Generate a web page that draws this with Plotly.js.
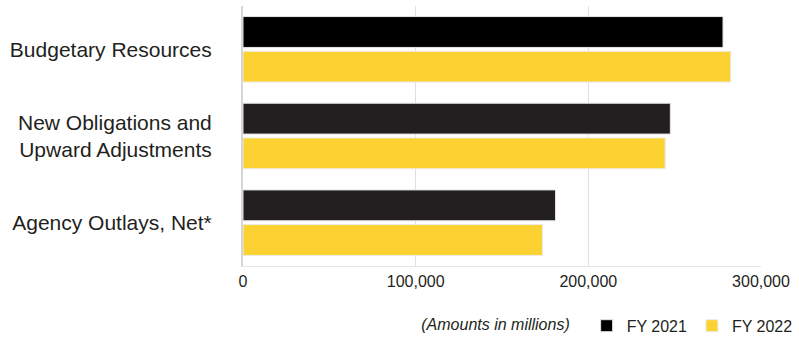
<!DOCTYPE html>
<html>
<head>
<meta charset="utf-8">
<script src="https://cdn.plot.ly/plotly-3.0.1.min.js"></script>
<style>html,body{margin:0;padding:0;background:#fff;}#chart{width:799px;height:343px;}</style>
</head>
<body>
<div id="chart"></div>
<script>
const categories = ["Budgetary Resources", "New Obligations and<br>Upward Adjustments", "Agency Outlays, Net*"];
const fy2021 = [278000, 247500, 181000];
const fy2022 = [282500, 244500, 173500];
const tickVals = [0, 100000, 200000, 300000];
const tickText = ["0", "100,000", "200,000", "300,000"];

const font = "Liberation Sans, Arial, Helvetica, sans-serif";
const traces = [
  {type: "bar", orientation: "h", name: "FY 2021", y: categories, x: fy2021,
   marker: {color: ["#000000", "#231f20", "#231f20"], line: {color: "#e4e4e4", width: 1}}, hoverinfo: "skip"},
  {type: "bar", orientation: "h", name: "FY 2022", y: categories, x: fy2022,
   marker: {color: "#fcd232", line: {color: "#ececec", width: 1}}, hoverinfo: "skip"}
];
const layout = {
  width: 799, height: 343,
  margin: {l: 243, r: 38, t: 6, b: 77, autoexpand: false},
  paper_bgcolor: "#fff", plot_bgcolor: "#fff",
  font: {family: font, color: "#231f20", size: 16},
  barmode: "group", bargap: 0.2, bargroupgap: 0.11,
  xaxis: {range: [0, 300000], tickvals: tickVals, ticktext: tickText, automargin: false,
          showgrid: true, gridcolor: "#e0e0e0", gridwidth: 1, zeroline: false,
          showline: true, linecolor: "#e4e4e4", linewidth: 1,
          tickfont: {size: 16, color: "#231f20"}, ticks: "", ticklabelstandoff: 1, fixedrange: true},
  yaxis: {autorange: "reversed", showgrid: false, zeroline: false, automargin: false,
          showline: true, linecolor: "#d6d6d6", linewidth: 2,
          tickfont: {size: 21, color: "#231f20"}, ticks: "", ticklabelstandoff: 25, fixedrange: true},
  showlegend: true,
  legend: {orientation: "h", x: 1.07, xanchor: "right", y: -0.23, yanchor: "middle",
           font: {size: 16, color: "#231f20"}, itemwidth: 30, traceorder: "normal",
           title: {text: "<i>(Amounts in millions)</i>  ", side: "left", font: {size: 16, color: "#231f20"}}}
};
Plotly.newPlot("chart", traces, layout, {displayModeBar: false, staticPlot: true});
</script>
</body>
</html>
